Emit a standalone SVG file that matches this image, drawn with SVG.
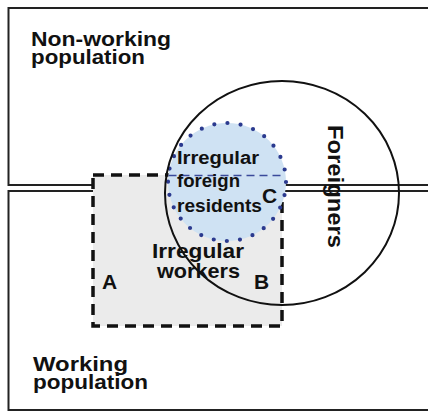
<svg xmlns="http://www.w3.org/2000/svg" width="428" height="412" viewBox="0 0 428 412">
<style>
.frame{fill:none;stroke:#222;stroke-width:2}
.lbl{font-family:"Liberation Sans",Arial,sans-serif;font-weight:bold;fill:#111}
</style>
<rect width="428" height="412" fill="#fff"/>
<g id="non-working">
<path class="frame" d="M430 8H8.5V185H430"/>
</g>
<g id="working">
<path class="frame" d="M430 191H8.5V410H430"/>
</g>
<g id="irregular-workers">
<rect x="93" y="175" width="189" height="151" fill="#ebebeb" stroke="#111" stroke-width="3.5" stroke-dasharray="11 7"/>
</g>
<g id="irregular-foreign-residents">
<circle cx="227" cy="182" r="59" fill="#cfe2f3" stroke="#2b3a8f" stroke-width="4.2" stroke-linecap="round" stroke-dasharray="0 13.24"/>
<line x1="168.5" y1="175.5" x2="285.5" y2="175.5" stroke="#3a4a9a" stroke-width="1.5" stroke-dasharray="8 5"/>
</g>
<g id="foreigners">
<ellipse cx="282" cy="193" rx="117" ry="112" fill="none" stroke="#111" stroke-width="2"/>
</g>
<g id="labels">
<text class="lbl" font-size="20.5" x="31" y="46" textLength="140" lengthAdjust="spacingAndGlyphs">Non-working</text>
<text class="lbl" font-size="20.5" x="31" y="64" textLength="114" lengthAdjust="spacingAndGlyphs">population</text>
<text class="lbl" font-size="20.5" x="33" y="371" textLength="95" lengthAdjust="spacingAndGlyphs">Working</text>
<text class="lbl" font-size="20.5" x="33" y="389" textLength="115" lengthAdjust="spacingAndGlyphs">population</text>
<text class="lbl" font-size="18" x="177" y="164" textLength="82" lengthAdjust="spacingAndGlyphs">Irregular</text>
<text class="lbl" font-size="18" x="177" y="187" textLength="63" lengthAdjust="spacingAndGlyphs">foreign</text>
<text class="lbl" font-size="18" x="177" y="212" textLength="85" lengthAdjust="spacingAndGlyphs">residents</text>
<text class="lbl" font-size="21" x="262" y="203">C</text>
<text class="lbl" font-size="20.5" x="152" y="258" textLength="92" lengthAdjust="spacingAndGlyphs">Irregular</text>
<text class="lbl" font-size="20.5" x="157" y="278" textLength="83" lengthAdjust="spacingAndGlyphs">workers</text>
<text class="lbl" font-size="21" x="102" y="289">A</text>
<text class="lbl" font-size="21" x="254" y="289">B</text>
<text class="lbl" font-size="22" transform="translate(328,125) rotate(90)" textLength="123" lengthAdjust="spacingAndGlyphs">Foreigners</text>
</g>
</svg>
